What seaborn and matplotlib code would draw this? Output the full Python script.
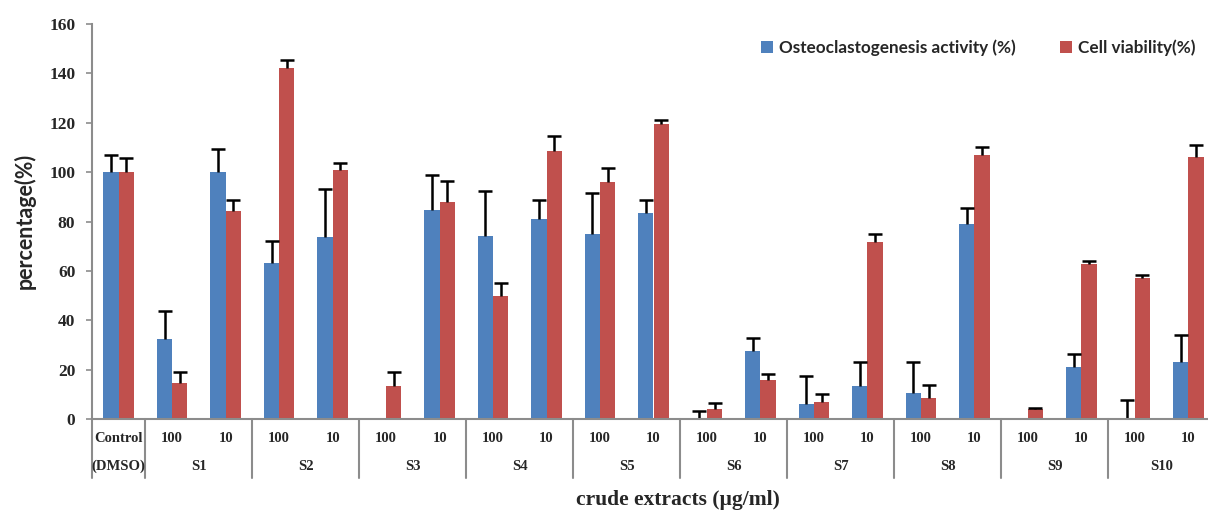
import numpy as np
import pandas as pd
import matplotlib
matplotlib.use("Agg")
import matplotlib.pyplot as plt
import matplotlib.transforms as mtransforms
from matplotlib.patches import Patch
import seaborn as sns

# categories: control + 10 crude extracts at 100 and 10 ug/ml
groups = ["S1", "S2", "S3", "S4", "S5", "S6", "S7", "S8", "S9", "S10"]
doses = ["100", "10"]
cats = ["Control"] + [g + " " + d for g in groups for d in doses]
dose_labels = ["Control"] + doses * len(groups)
group_labels = ["(DMSO)"] + groups

osteo = [100, 32.5, 100, 63.2, 73.7, 0.3, 84.6, 74.1, 81.1, 75.0, 83.3,
         0.5, 27.5, 5.9, 13.2, 10.5, 78.9, 0.3, 20.9, 0.5, 23.1]
osteo_err = [7.0, 11.3, 9.3, 8.8, 19.4, 0, 14.4, 18.1, 7.6, 16.6, 5.4,
             2.9, 5.3, 11.5, 10.0, 12.7, 6.5, 0, 5.3, 7.2, 11.0]
viab = [100, 14.7, 84.2, 142.0, 100.7, 13.4, 88.1, 49.7, 108.5, 96.1, 119.6,
        4.0, 15.7, 6.8, 71.5, 8.5, 106.8, 3.9, 62.8, 57.0, 106.2]
viab_err = [5.7, 4.5, 4.5, 3.3, 2.8, 5.5, 8.4, 5.2, 6.2, 5.5, 1.4,
            2.5, 2.5, 3.3, 3.3, 5.3, 3.3, 0.7, 1.1, 1.2, 4.6]

series = ["Osteoclastogenesis activity (%)", "Cell viability(%)"]
colors = ["#4F81BD", "#C0504D"]

df = pd.DataFrame({
    "cat": cats * 2,
    "value": osteo + viab,
    "series": [series[0]] * len(cats) + [series[1]] * len(cats),
})

sns.set_style("white")
plt.rcParams["font.family"] = ["Liberation Serif", "DejaVu Serif"]

fig = plt.figure(figsize=(12.08, 5.13), dpi=100)
ax = fig.add_axes([92 / 1208, 94 / 513, (1215 - 92) / 1208, 395 / 513])

sns.barplot(data=df, x="cat", y="value", hue="series", order=cats,
            hue_order=series, palette=colors, saturation=1, width=0.57,
            linewidth=0, legend=False, ax=ax)

# upper error bars only
for cont, err in zip(ax.containers, [osteo_err, viab_err]):
    xs = np.array([p.get_x() + p.get_width() / 2 for p in cont.patches])
    ys = np.array([p.get_height() for p in cont.patches])
    e = np.array(err)
    m = e > 0
    eb = ax.errorbar(xs[m], ys[m], yerr=[np.zeros(m.sum()), e[m]], fmt="none",
                     ecolor="black", elinewidth=1.8, capsize=5, capthick=1.8)
    for cl in eb[1]:
        if np.allclose(cl.get_ydata(), ys[m]):
            cl.set_visible(False)

ax.set_xlim(-0.5, len(cats) - 0.5)
ax.set_ylim(0, 160)
ax.set_yticks(range(0, 161, 20))
ax.set_xticks([])
ax.set_xlabel("")
ax.set_ylabel("")

gray = "#8C8C8C"
for s in ["top", "right"]:
    ax.spines[s].set_visible(False)
for s in ["left", "bottom"]:
    ax.spines[s].set_color(gray)
    ax.spines[s].set_linewidth(1.5)
ax.tick_params(axis="y", which="both", left=True, length=4, width=1.2,
               color=gray, pad=8)
for t in ax.get_yticklabels():
    t.set_fontsize(12.5)
    t.set_fontweight("bold")

# two-row category axis with group separators
trans = mtransforms.blended_transform_factory(ax.transData, ax.transAxes)
for i, lab in enumerate(dose_labels):
    ax.text(i, -0.05, lab, transform=trans, ha="center", va="center",
            fontsize=10.5, fontweight="bold")
group_pos = [0] + [1.5 + 2 * k for k in range(len(groups))]
for x, lab in zip(group_pos, group_labels):
    ax.text(x, -0.12, lab, transform=trans, ha="center", va="center",
            fontsize=10.5, fontweight="bold")
for x in [-0.5, 0.5] + [2.5 + 2 * k for k in range(len(groups))]:
    ax.plot([x, x], [0, -0.15], transform=trans, color=gray, lw=1.5,
            clip_on=False)

fig.text(678 / 1208, 13 / 513, "crude extracts (\u00b5g/ml)", ha="center",
         va="center", fontsize=15.5, fontweight="bold")
fig.text(25 / 1208, 0.57, "percentage(%)", rotation=90, ha="center",
         va="center", fontsize=15.5, fontweight="bold", family=["Lato", "DejaVu Sans"])

handles = [Patch(facecolor=c, edgecolor="none") for c in colors]
fig.legend(handles, series, loc="center", bbox_to_anchor=(978 / 1208, 465 / 513),
           ncol=2, frameon=False, handlelength=0.7, handleheight=0.7,
           handletextpad=0.35, columnspacing=2.6,
           prop={"family": ["Lato", "DejaVu Sans"], "weight": "bold", "size": 12.3})

fig.savefig("out.png", dpi=100)
